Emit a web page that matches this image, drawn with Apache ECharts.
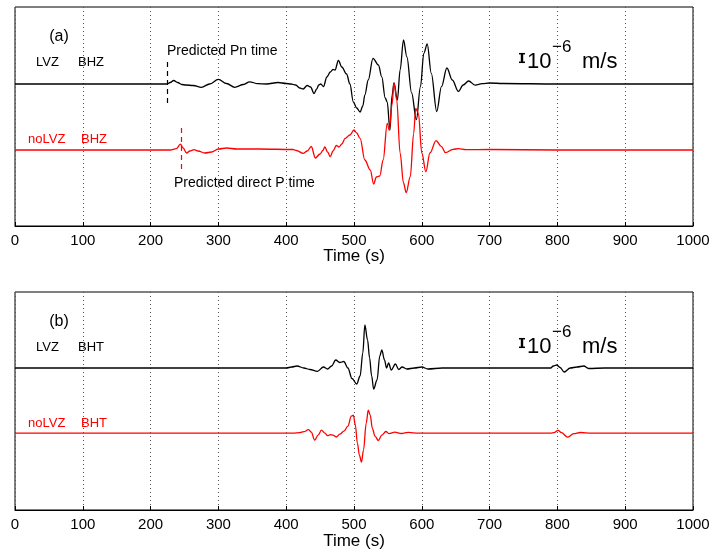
<!DOCTYPE html>
<html><head><meta charset="utf-8">
<script src="https://cdn.jsdelivr.net/npm/echarts@6/dist/echarts.min.js"></script>
<style>html,body{margin:0;padding:0;background:#fff}#c{width:713px;height:559px}</style>
</head><body><div id="c"></div>
<script>
// x-axis ticks (s)
const timeTicks = [0,100,200,300,400,500,600,700,800,900,1000];
// relative amplitude (1 unit ~ 1/7 of the 10^-6 m/s scale bar)
// Panel (a) LVZ BHZ
const aLvzT = [0,224,229,234,240,246,252,263,275,287,300,312,324,337,346,358,371,388,400,407,414,420,425,431,436,441,445,448,451,455,460,465,469,472,477,482,489,494,499,504,509,513,516,521,528,536,541,546,549,553,556,559,564,568,573,578,585,592,598,603,608,614,622,629,637,645,654,661,669,679,689,700,720,800,900,1000];
const aLvzV = [0,0,1.5,3.5,1.5,-0.5,-1,-1.5,-3.3,0,4.7,0.5,-3.3,-0.5,2.2,0.3,0,1.5,0.5,0,-1,-4,-5,-1.5,-3,-9.5,-5,-1,0,-2.5,7,12,14.5,14,23.5,17,10,0,-18,-24,-28,-22,-11,4,25.7,19,7,-14,-18,-46,-12,1,-16,14,44,27,-9,-35.7,-2.7,30.7,40,10.7,-27.5,-2.7,16,4,-7.4,-1,3,-1.2,0.3,1,0.5,0,0,0];
// Panel (a) noLVZ BHZ
const aNoT = [0,229,238,244,248,253,258,264,270,280,290,300,312,327,360,410,415,425,431,437,443,450,454,457,461,465,469,474,478,482,487,494,500,504,509,516,524,529,533,538,543,549,552,556,559,563,568,573,577,583,588,591,595,600,606,612,621,629,635,646,654,665,700,800,900,1000];
const aNoV = [0,0,1.3,5.8,2,-3,-1,0.3,-1,-3,-2,1,2,1,1,0.5,-0.5,-3.3,-1,3.5,-8,-4,-0.5,3,-2,-6.7,-1,4.5,3,6,11.7,15,20,17,11.7,-10,-20,-34,-27,-26,-10,26.7,20,45,67,50,-3,-33,-42.7,-26.7,16.7,41.7,36.7,-3,-21.7,-3,9.3,3.3,-2.7,0.7,1.3,0.3,0.5,0,0,0];
// Panel (b) LVZ BHT
const bLvzT = [0,400,408,416,426,435,446,455,461,467,473,479,485,491,497,504,509,513,516,520,523,526,529,534,538,541,545,548,551,555,561,566,571,578,589,600,609,630,700,790,794,799,804,810,819,829,839,846,870,900,950,1000];
const bLvzV = [0,0,1,2,0,-1.5,-3.3,1,-1,2,8,5.5,6.5,0,-10.5,-16,-8,15,43,28,10,-8,-21,-12,12,18,8,0,5,-2,4,-1.5,1,-1,0,1,-1,0,0,0,2,3,0.5,-4,0,1,2,-0.5,0,0,0,0];
// Panel (b) noLVZ BHT
const bNoT = [0,410,420,426,433,437,442,447,452,457,461,465,469,474,479,485,491,496,499,502,505,508,511,514,518,521,524,527,531,536,541,547,552,560,570,580,595,700,790,795,801,806,815,824,834,850,900,950,1000];
const bNoV = [0,0,0.5,1.5,3.5,1,-7,-2,3,0,-2.5,-1.5,-2,-3.8,-1,2,7,17,18,8,-10,-22,-29,-17,10,23,18,5,-3,-7.3,-2,1.7,-0.5,1,-0.3,0.8,0,0,0,0.5,2.8,0.5,-4,-0.5,0.7,0,0,0,0];
// predicted arrival times (s)
const pnTime = 224, directPTime = 245;

const FONT = 'Liberation Sans';
function pairs(t, v){ return t.map((x,i)=>[x, v[i]]); }
function xAxisFor(gi){
  return {type:'value', gridIndex:gi, min:0, max:1000, interval:100,
    axisLine:{show:true, onZero:false, lineStyle:{color:'#000', width:1}},
    axisTick:{show:true, inside:true, length:4, lineStyle:{color:'#000'}},
    axisLabel:{color:'#000', fontFamily:FONT, fontSize:15, margin:7, formatter:v=> timeTicks.includes(v)? String(v):''},
    splitLine:{show:true, lineStyle:{color:'#555', type:[1,3], width:1}}};
}
function yAxisFor(gi, min, max){
  return {type:'value', gridIndex:gi, min:min, max:max, show:false, splitLine:{show:false}};
}
function trace(xi, yi, data, color, w, markT, markLen){
  const s = {type:'line', xAxisIndex:xi, yAxisIndex:yi, data:data, showSymbol:false, symbol:'none',
    smooth:0.35, smoothMonotone:'x', clip:false, lineStyle:{color:color, width:w}, silent:true, animation:false, z:3};
  if (markT !== undefined){
    s.markLine = {symbol:['none','none'], silent:true, label:{show:false}, animation:false,
      lineStyle:{color:color, type:[5,4], width:1.2},
      data:[[{coord:[markT, markLen]},{coord:[markT, -markLen]}]]};
  }
  return s;
}
const chart = echarts.init(document.getElementById('c'), null, {renderer:'canvas'});
function txt(x, y, s, size, color, align){
  return {type:'text', x:x, y:y, style:{text:s, fill:color||'#000', font:`${size}px "${FONT}"`, textAlign:align||'left', textVerticalAlign:'middle'}, z:10};
}
function scaleBar(dy){
  return [
    {type:'line', shape:{x1:522, y1:53+dy, x2:522, y2:63+dy}, style:{stroke:'#000', lineWidth:2.4}, z:10},
    {type:'line', shape:{x1:519, y1:53.7+dy, x2:525, y2:53.7+dy}, style:{stroke:'#000', lineWidth:1.5}, z:10},
    {type:'line', shape:{x1:519, y1:62.3+dy, x2:525, y2:62.3+dy}, style:{stroke:'#000', lineWidth:1.5}, z:10},
    txt(527, 62+dy, '10', 22),
    txt(552, 47+dy, '\u22126', 17),
    txt(582, 62+dy, 'm/s', 22)
  ];
}
const graphics = [
  txt(59, 37, '(a)', 16, '#000', 'center'),
  txt(36, 62, 'LVZ', 13), txt(78, 62, 'BHZ', 13),
  txt(28, 139, 'noLVZ', 13, '#ff0000'), txt(81, 139, 'BHZ', 13, '#ff0000'),
  txt(167, 51, 'Predicted Pn time', 14),
  txt(174, 183, 'Predicted direct P time', 14),
  txt(354, 256, 'Time (s)', 17, '#000', 'center'),
  txt(59, 322, '(b)', 16, '#000', 'center'),
  txt(36, 347, 'LVZ', 13), txt(78, 347, 'BHT', 13),
  txt(28, 423, 'noLVZ', 13, '#ff0000'), txt(81, 423, 'BHT', 13, '#ff0000'),
  txt(354, 541, 'Time (s)', 17, '#000', 'center'),
].concat(scaleBar(0), scaleBar(285));

chart.setOption({
  animation:false,
  backgroundColor:'#fff',
  grid:[
    {left:15, right:20, top:7, height:219, show:true, borderColor:'#000', borderWidth:1, backgroundColor:'transparent'},
    {left:15, right:20, top:292, height:218, show:true, borderColor:'#000', borderWidth:1, backgroundColor:'transparent'}
  ],
  xAxis:[xAxisFor(0), xAxisFor(1)],
  yAxis:[yAxisFor(0,-142,77), yAxisFor(0,-76,143), yAxisFor(1,-142,76), yAxisFor(1,-76.8,141.2)],
  series:[
    trace(0,0,pairs(aLvzT,aLvzV),'#000000', 1.3, pnTime, 22),
    trace(0,1,pairs(aNoT,aNoV),'#ff0000', 1.3, directPTime, 22),
    trace(1,2,pairs(bLvzT,bLvzV),'#000000', 1.3),
    trace(1,3,pairs(bNoT,bNoV),'#ff0000', 1.3)
  ],
  graphic:graphics
});
</script></body></html>
